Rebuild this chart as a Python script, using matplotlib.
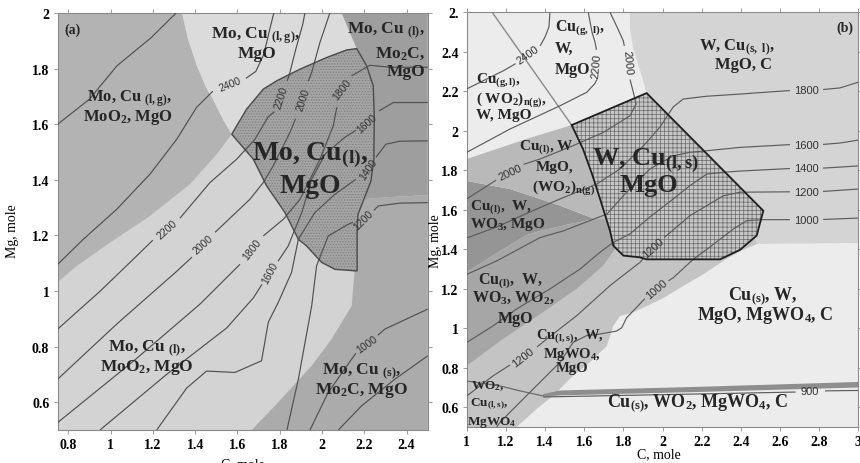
import matplotlib
matplotlib.use("Agg")
import matplotlib.pyplot as plt
from matplotlib.patches import Polygon

plt.rcParams['font.family'] = ['Liberation Serif', 'DejaVu Serif']
plt.rcParams['font.weight'] = 'bold'
plt.rcParams['mathtext.fontset'] = 'custom'
plt.rcParams['mathtext.rm'] = 'Liberation Serif:bold'
plt.rcParams['mathtext.it'] = 'Liberation Serif:bold'
plt.rcParams['mathtext.bf'] = 'Liberation Serif:bold'
plt.rcParams['hatch.linewidth'] = 0.5


def sub(s):
    # small subscript like (l,g)
    return r'$_{\mathrm{' + s + '}}$'


# ---------------- panel (a): Mo-Cu-Mg-C ----------------
a_xticks = [0.8, 1, 1.2, 1.4, 1.6, 1.8, 2, 2.2, 2.4]
a_xticklabels = ['0.8', '1', '1.2', '1.4', '1.6', '1.8', '2', '2.2', '2.4']
a_yticks = [0.6, 0.8, 1, 1.2, 1.4, 1.6, 1.8, 2]
a_yticklabels = ['0.6', '0.8', '1', '1.2', '1.4', '1.6', '1.8', '2']

# phase fields, (C, Mg) mole
a_field_moo2 = [(0.75, 2.0), (1.338, 2.0), (1.366, 1.906), (1.409, 1.809), (1.451, 1.733),
                (1.484, 1.69), (1.531, 1.618), (1.573, 1.564), (1.502, 1.492), (1.375, 1.384),
                (1.186, 1.27), (0.997, 1.174), (0.84, 1.09), (0.75, 1.032)]
a_field_gas = [(1.338, 2.0), (2.093, 2.0), (2.164, 1.872), (2.053, 1.841), (1.896, 1.792),
               (1.769, 1.744), (1.573, 1.564), (1.531, 1.618), (1.484, 1.69), (1.451, 1.733),
               (1.409, 1.809), (1.366, 1.906)]
a_field_mo2c_l = [(2.093, 2.0), (2.5, 2.0), (2.5, 1.345), (2.297, 1.337), (2.19, 1.33),
                  (2.21, 1.40), (2.21, 1.63), (2.2, 1.74), (2.17, 1.84), (2.164, 1.872)]
a_field_mo2c_s = [(1.668, 0.5), (1.777, 0.587), (1.951, 0.731), (2.045, 0.827), (2.14, 0.946),
                  (2.155, 1.08), (2.15, 1.25), (2.19, 1.33), (2.297, 1.337), (2.5, 1.345), (2.5, 0.5)]
a_target = [(1.573, 1.564), (1.643, 1.654), (1.722, 1.726), (1.785, 1.756), (1.896, 1.798),
            (2.022, 1.84), (2.116, 1.867), (2.164, 1.872), (2.211, 1.81), (2.242, 1.738),
            (2.247, 1.63), (2.245, 1.474), (2.231, 1.395), (2.198, 1.33), (2.17, 1.276),
            (2.166, 1.215), (2.166, 1.072), (2.061, 1.078), (1.998, 1.103), (1.927, 1.162),
            (1.888, 1.186), (1.825, 1.282), (1.738, 1.378), (1.675, 1.474)]

# isotherms (K), each one split where its label sits
a_iso = [
    [[(0.75, 1.60), (0.90, 1.69), (1.03, 1.81), (1.19, 1.91), (1.31, 2.0)]],
    [[(0.75, 1.096), (0.871, 1.186), (1.029, 1.294), (1.186, 1.42), (1.313, 1.546), (1.407, 1.661), (1.484, 1.719)],
     [(1.64, 1.765), (1.687, 1.79), (1.725, 1.852), (1.753, 1.942), (1.772, 2.0)]],
    [[(0.75, 0.863), (0.95, 0.999), (1.107, 1.114), (1.2, 1.183)],
     [(1.328, 1.262), (1.47, 1.39), (1.596, 1.474), (1.683, 1.546), (1.744, 1.625), (1.775, 1.645)],
     [(1.835, 1.755), (1.848, 1.786), (1.876, 1.87), (1.909, 1.96), (1.919, 2.0)]],
    [[(0.75, 0.683), (1.029, 0.881), (1.313, 1.071), (1.385, 1.122)],
     [(1.494, 1.211), (1.659, 1.33), (1.722, 1.39), (1.769, 1.45), (1.848, 1.57), (1.875, 1.62)],
     [(1.935, 1.755), (1.951, 1.786), (1.99, 1.894), (2.037, 2.0)]],
    [[(0.75, 0.527), (1.107, 0.747), (1.423, 0.953), (1.612, 1.096)],
     [(1.722, 1.198), (1.817, 1.258), (1.896, 1.33), (1.99, 1.474), (2.053, 1.594), (2.07, 1.661)],
     [(2.14, 1.774), (2.226, 1.812), (2.321, 1.805), (2.5, 1.805)]],
    [[(0.95, 0.5), (1.265, 0.7), (1.549, 0.867), (1.675, 0.975), (1.716, 1.024)],
     [(1.792, 1.107), (1.84, 1.162), (1.904, 1.282), (1.951, 1.402), (2.014, 1.492), (2.108, 1.553), (2.16, 1.578)],
     [(2.27, 1.648), (2.337, 1.678), (2.5, 1.678)]],
    [[(1.218, 0.5), (1.36, 0.651), (1.454, 0.712), (1.588, 0.707), (1.714, 0.749), (1.746, 0.888),
      (1.793, 0.959), (1.856, 1.067), (1.888, 1.186), (1.966, 1.282), (2.061, 1.348), (2.16, 1.402)],
     [(2.255, 1.481), (2.302, 1.528), (2.368, 1.539), (2.5, 1.54)]],
    [[(1.834, 0.5), (1.888, 0.683), (1.951, 0.946), (1.974, 1.09), (2.029, 1.198), (2.124, 1.24), (2.146, 1.247)],
     [(2.245, 1.29), (2.266, 1.306), (2.368, 1.316), (2.5, 1.318)]],
    [[(1.943, 0.5), (2.029, 0.635), (2.14, 0.755), (2.16, 0.776)],
     [(2.264, 0.841), (2.297, 0.863), (2.5, 0.935)]],
    [[(2.077, 0.5), (2.187, 0.587), (2.345, 0.683), (2.5, 0.767)]],
]
a_iso_labels = [('2400', 1.565, 1.744, 22), ('2200', 1.265, 1.222, 42), ('2000', 1.438, 1.168, 42),
                ('1800', 1.667, 1.15, 52), ('1600', 1.754, 1.068, 62), ('2200', 1.809, 1.697, 72),
                ('2000', 1.911, 1.69, 72), ('1800', 2.093, 1.726, 52), ('1600', 2.211, 1.606, 42),
                ('1400', 2.218, 1.438, 55), ('1200', 2.195, 1.258, 45), ('1000', 2.211, 0.809, 35)]

a_text = [('Mo, Cu ' + sub('(l,g)') + ',', 1.688, 1.937, 'center', 12.5),
          ('MgO', 1.692, 1.864, 'center', 12.5),
          ('Mo, Cu ' + sub('(l,g)') + ',', 1.092, 1.707, 'center', 12),
          ('MoO$_2$, MgO', 1.083, 1.637, 'center', 12),
          ('Mo, Cu ' + sub('(l)') + ',', 2.488, 1.953, 'right', 12.5),
          ('Mo$_2$C,', 2.488, 1.866, 'right', 12.5),
          ('MgO', 2.488, 1.798, 'right', 12.5),
          ('Mo, Cu' + sub('(l)') + ',', 1.943, 1.51, 'center', 20),
          ('MgO', 1.943, 1.392, 'center', 20),
          ('Mo, Cu ' + sub('(l)') + ',', 1.172, 0.809, 'center', 12.5),
          ('MoO$_2$, MgO', 1.172, 0.74, 'center', 12.5),
          ('Mo, Cu ' + sub('(s)') + ',', 2.188, 0.726, 'center', 12.5),
          ('Mo$_2$C, MgO', 2.188, 0.658, 'center', 12.5)]

# ---------------- panel (b): W-Cu-Mg-C ----------------
b_xticks = [1, 1.2, 1.4, 1.6, 1.8, 2, 2.2, 2.4, 2.6, 2.8, 3]
b_xticklabels = ['1', '1.2', '1.4', '1.6', '1.8', '2', '2.2', '2.4', '2.6', '2.8', '3']
b_yticks = [0.6, 0.8, 1, 1.2, 1.4, 1.6, 1.8, 2, 2.2, 2.4, 2.6]
b_yticklabels = ['0.6', '0.8', '1', '1.2', '1.4', '1.6', '1.8', '2', '2.2', '2.4', '2.']

b_field_topright = [(1.834, 2.6), (3.0, 2.6), (3.0, 1.432), (2.483, 1.427), (2.45, 1.5), (2.45, 1.6),
                    (1.93, 2.15), (1.919, 2.191), (1.894, 2.279), (1.851, 2.414), (1.834, 2.516)]
b_field_mgwo4 = [(1.0, 0.5), (1.255, 0.5), (1.357, 0.591), (1.442, 0.659), (1.544, 0.76), (1.63, 0.828),
                 (1.715, 0.91), (1.749, 1.012), (1.783, 1.062), (1.851, 1.081), (1.911, 1.108),
                 (2.004, 1.153), (2.106, 1.214), (2.208, 1.273), (2.311, 1.341), (2.396, 1.391),
                 (2.483, 1.427), (2.45, 1.5), (1.78, 1.5), (1.783, 1.435), (1.698, 1.317),
                 (1.562, 1.199), (1.391, 1.081), (1.187, 0.946), (1.0, 0.809)]
b_field_wo3_wo2 = [(1.0, 0.809), (1.187, 0.946), (1.391, 1.081), (1.562, 1.199), (1.698, 1.317),
                   (1.783, 1.435), (1.78, 1.5), (1.717, 1.553), (1.655, 1.553), (1.528, 1.528),
                   (1.374, 1.493), (1.306, 1.472), (1.17, 1.391), (1.0, 1.285)]
b_field_wo3 = [(1.0, 1.746), (1.221, 1.705), (1.477, 1.621), (1.655, 1.553), (1.528, 1.528),
               (1.374, 1.493), (1.306, 1.472), (1.17, 1.391), (1.0, 1.285)]
b_field_wo2g = [(1.0, 1.857), (1.306, 1.959), (1.536, 2.029), (1.594, 1.908), (1.64, 1.781),
                (1.681, 1.655), (1.717, 1.553), (1.655, 1.553), (1.477, 1.621), (1.221, 1.705),
                (1.0, 1.746)]
b_target = [(1.536, 2.029), (1.919, 2.191), (2.515, 1.595), (2.481, 1.469), (2.396, 1.397),
            (2.294, 1.349), (1.919, 1.349), (1.885, 1.359), (1.8, 1.368), (1.749, 1.418),
            (1.732, 1.493), (1.681, 1.655), (1.64, 1.781), (1.594, 1.908)]
b_gas_line = [(1.13, 2.6), (1.536, 2.029)]
b_wo2_strip = [(1.391, 0.667), (1.477, 0.685), (2.17, 0.703), (3.0, 0.728),
               (3.0, 0.7), (2.17, 0.677), (1.477, 0.66), (1.391, 0.652)]
b_wo2_line = [(1.0, 0.733), (1.17, 0.708), (1.272, 0.683), (1.391, 0.657)]

b_iso = [
    [[(1.0, 2.212), (1.187, 2.304), (1.25, 2.34)],
     [(1.375, 2.43), (1.4, 2.475), (1.42, 2.526), (1.425, 2.6)]],
    [[(1.0, 1.891), (1.221, 2.009), (1.477, 2.127), (1.613, 2.195), (1.655, 2.24), (1.665, 2.26)],
     [(1.663, 2.41), (1.655, 2.45), (1.64, 2.499), (1.621, 2.6)]],
    [[(1.0, 1.655), (1.15, 1.75)],
     [(1.29, 1.83), (1.374, 1.857), (1.544, 1.925), (1.698, 1.992), (1.834, 2.076), (1.865, 2.136),
      (1.851, 2.195), (1.834, 2.26)],
     [(1.805, 2.43), (1.8, 2.455), (1.768, 2.525), (1.732, 2.6)]],
    [[(1.0, 1.457), (1.153, 1.513), (1.323, 1.589), (1.477, 1.655), (1.665, 1.731), (1.783, 1.807),
      (1.911, 1.933), (1.987, 2.019), (2.021, 2.07), (2.055, 2.121), (2.106, 2.161), (2.226, 2.175),
      (2.396, 2.186), (2.651, 2.204)],
     [(2.82, 2.209), (2.906, 2.217), (3.0, 2.246)]],
    [[(1.0, 1.273), (1.153, 1.341), (1.374, 1.459), (1.493, 1.493), (1.717, 1.579), (1.808, 1.68),
      (1.936, 1.807), (2.055, 1.873), (2.14, 1.891), (2.226, 1.899), (2.396, 1.916), (2.651, 1.93)],
     [(2.82, 1.931), (2.906, 1.938), (3.0, 1.953)]],
    [[(1.0, 0.928), (1.136, 1.013), (1.255, 1.098), (1.425, 1.199), (1.579, 1.3), (1.681, 1.385),
      (1.749, 1.435), (1.834, 1.478), (1.936, 1.564), (2.055, 1.655), (2.14, 1.722), (2.226, 1.781),
      (2.311, 1.79), (2.396, 1.796), (2.651, 1.809)],
     [(2.82, 1.811), (3.0, 1.822)]],
    [[(1.0, 0.657), (1.136, 0.76), (1.221, 0.814)],
     [(1.359, 0.905), (1.409, 0.946), (1.562, 1.064), (1.732, 1.216), (1.885, 1.334), (1.9, 1.35)],
     [(2.01, 1.46), (2.14, 1.57), (2.311, 1.671), (2.396, 1.689), (2.651, 1.691)],
     [(2.82, 1.693), (3.0, 1.705)]],
    [[(3.0, 1.558), (2.82, 1.551)],
     [(2.651, 1.55), (2.515, 1.55), (2.43, 1.545), (2.362, 1.503), (2.243, 1.412), (2.157, 1.349),
      (2.055, 1.256), (2.03, 1.24)],
     [(1.91, 1.15), (1.834, 1.071), (1.817, 1.054), (1.792, 1.003), (1.766, 0.986), (1.681, 0.971),
      (1.613, 0.963), (1.544, 0.929), (1.477, 0.828), (1.306, 0.659), (1.17, 0.524), (1.153, 0.5)]],
    [[(1.391, 0.652), (2.17, 0.667), (2.68, 0.677)],
     [(2.83, 0.683), (3.0, 0.685)]],
]
b_iso_labels = [('2400', 1.313, 2.384, 35), ('2200', 1.665, 2.33, 85), ('2000', 1.819, 2.347, -85),
                ('2000', 1.221, 1.79, 25), ('1800', 2.736, 2.208, 0), ('1600', 2.736, 1.93, 0),
                ('1400', 2.736, 1.81, 0), ('1200', 2.736, 1.692, 0), ('1000', 2.736, 1.55, 0),
                ('1200', 1.289, 0.853, 38), ('1200', 1.953, 1.41, 42), ('1000', 1.972, 1.199, 40),
                ('900', 2.753, 0.681, 0)]

b_text = [('W, Cu' + sub(r'(s,\ l)') + ',', 2.381, 2.44, 'center', 12),
          ('MgO, C', 2.412, 2.348, 'center', 12),
          ('Cu' + sub(r'(g,\ l)') + ',', 1.451, 2.541, 'left', 11.5),
          ('W,', 1.451, 2.429, 'left', 11.5),
          ('MgO', 1.451, 2.323, 'left', 11.5),
          ('Cu' + sub('(g,l)') + ',', 1.047, 2.276, 'left', 11),
          ('( WO$_2$)' + sub('n(g)') + ',', 1.047, 2.178, 'left', 11),
          ('W, MgO', 1.047, 2.09, 'left', 11),
          ('Cu' + sub('(l)') + ', W', 1.405, 1.938, 'center', 11),
          ('MgO,', 1.451, 1.827, 'center', 11),
          ('(WO$_2$)' + sub('n(g)'), 1.492, 1.736, 'center', 11),
          ('Cu' + sub('(l)') + ',  W,', 1.017, 1.634, 'left', 11),
          ('WO$_3$, MgO', 1.017, 1.543, 'left', 11),
          ('Cu' + sub('(l)') + ',  W,', 1.221, 1.26, 'center', 11.5),
          ('WO$_3$, WO$_2$,', 1.237, 1.169, 'center', 11.5),
          ('MgO', 1.247, 1.062, 'center', 11.5),
          ('Cu' + sub('(l,s)') + ',  W,', 1.528, 0.982, 'center', 10.5),
          ('MgWO$_4$,', 1.538, 0.885, 'center', 10.5),
          ('MgO', 1.538, 0.809, 'center', 10.5),
          ('WO$_2$,', 1.022, 0.723, 'left', 9.5),
          ('Cu' + sub('(l,s)') + ',', 1.017, 0.632, 'left', 9.5),
          ('MgWO$_4$', 1.0, 0.541, 'left', 9.5),
          ('W, Cu' + sub('(l,s)'), 1.911, 1.878, 'center', 19),
          ('MgO', 1.932, 1.742, 'center', 19),
          ('Cu' + sub('(s)') + ', W,', 2.514, 1.184, 'center', 13),
          ('MgO, MgWO$_4$, C', 2.524, 1.083, 'center', 13),
          ('Cu' + sub('(s)') + ', WO$_2$, MgWO$_4$, C', 2.181, 0.642, 'center', 13)]


def add_field(ax, pts, color, z=1):
    ax.add_patch(Polygon(pts, closed=True, facecolor=color, edgecolor='none', lw=0, zorder=z))


def add_target(ax, pts, base, hatch, hatch_color, edge, lw):
    ax.add_patch(Polygon(pts, closed=True, facecolor=base, edgecolor='none', lw=0, zorder=2))
    ax.add_patch(Polygon(pts, closed=True, facecolor='none', edgecolor=hatch_color,
                         hatch=hatch, lw=0, zorder=3))
    ax.add_patch(Polygon(pts, closed=True, fill=False, edgecolor=edge, lw=lw, zorder=5))


def draw_iso(ax, lines, labels, color, size):
    for pieces in lines:
        for piece in pieces:
            xs = [p[0] for p in piece]
            ys = [p[1] for p in piece]
            ax.plot(xs, ys, color=color, lw=0.85, zorder=4, solid_capstyle='butt')
    for s, x, y, r in labels:
        ax.text(x, y, s, rotation=r, rotation_mode='anchor', ha='center', va='center',
                fontsize=size, family='Liberation Sans', weight='normal', color='#333333', zorder=6)


def draw_text(ax, items):
    for s, x, y, ha, size in items:
        ax.text(x, y, s, ha=ha, va='center_baseline', fontsize=size, color='#262626', zorder=7)


def style_axes(ax, xlim, ylim, xt, xtl, yt, ytl):
    ax.set_xlim(*xlim)
    ax.set_ylim(*ylim)
    ax.set_xticks(xt)
    ax.set_xticklabels(xtl)
    ax.set_yticks(yt)
    ax.set_yticklabels(ytl)
    ax.tick_params(direction='out', length=3, width=0.6, color='#8a8a8a', labelsize=10,
                   top=True, right=True, pad=3)
    for sp in ax.spines.values():
        sp.set_color('#8a8a8a')
        sp.set_linewidth(0.8)


fig = plt.figure(figsize=(8.6, 4.64), dpi=100)

# ---- (a)
ax = fig.add_axes([0.0671, 0.0711, 0.4303, 0.8987])
ax.set_facecolor('#d3d3d3')
add_field(ax, a_field_moo2, '#b3b3b3')
add_field(ax, a_field_gas, '#dbdbdb')
add_field(ax, a_field_mo2c_l, '#9e9e9e')
add_field(ax, a_field_mo2c_s, '#ababab')
add_target(ax, a_target, '#a4a4a4', '......', '#7c7c7c', '#4a4a4a', 1.0)
draw_iso(ax, a_iso, a_iso_labels, '#505050', 7.5)
draw_text(ax, a_text)
ax.text(0.822, 1.942, '(a)', ha='center', va='center', fontsize=10, color='#262626', zorder=7)
style_axes(ax, (0.75, 2.5), (0.5, 2.0), a_xticks, a_xticklabels, a_yticks, a_yticklabels)
ax.set_xlabel('C, mole', fontsize=10)
ax.xaxis.set_label_coords(0.5, -0.066)
ax.set_ylabel('Mg, mole', fontsize=10)
ax.yaxis.set_label_coords(-0.105, 0.48)

# ---- (b)
ax = fig.add_axes([0.5427, 0.0776, 0.4553, 0.8937])
ax.set_facecolor('#ececec')
add_field(ax, b_field_topright, '#d4d4d4')
add_field(ax, b_field_mgwo4, '#c4c4c4')
add_field(ax, b_field_wo3_wo2, '#a6a6a6')
add_field(ax, b_field_wo3, '#959595')
add_field(ax, b_field_wo2g, '#b9b9b9')
add_field(ax, b_wo2_strip, '#8e8e8e', z=4)
add_target(ax, b_target, '#c6c6c6', '++++', '#6a6a6a', '#1e1e1e', 1.3)
ax.plot([p[0] for p in b_gas_line], [p[1] for p in b_gas_line], color='#8a8a8a', lw=1.0, zorder=4)
ax.plot([p[0] for p in b_wo2_line], [p[1] for p in b_wo2_line], color='#6a6a6a', lw=0.9, zorder=4)
draw_iso(ax, b_iso, b_iso_labels, '#5c5c5c', 8)
draw_text(ax, b_text)
ax.text(2.933, 2.526, '(b)', ha='center', va='center', fontsize=10, color='#262626', zorder=7)
style_axes(ax, (1, 3), (0.5, 2.6), b_xticks, b_xticklabels, b_yticks, b_yticklabels)
ax.set_xlabel('C, mole', fontsize=10)
ax.xaxis.set_label_coords(0.49, -0.048)
ax.set_ylabel('Mg, mole', fontsize=10)
ax.yaxis.set_label_coords(-0.062, 0.45)

fig.savefig('out.png', dpi=100)
